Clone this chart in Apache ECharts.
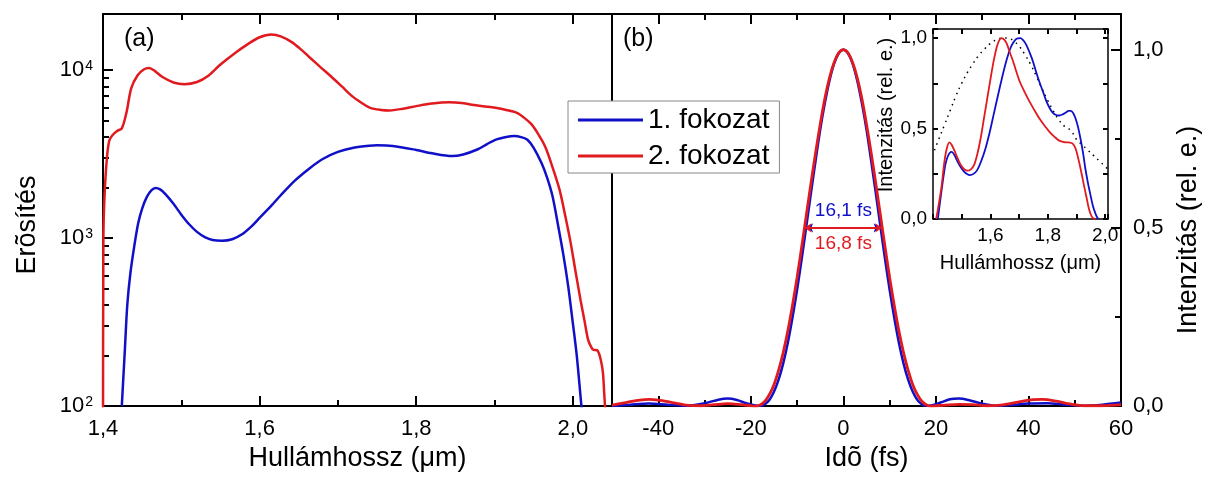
<!DOCTYPE html>
<html><head><meta charset="utf-8">
<script src="https://cdn.jsdelivr.net/npm/echarts@6/dist/echarts.min.js"></script>
<style>html,body{margin:0;padding:0;background:#fff}#c{width:1211px;height:477px}</style>
</head><body><div id="c"></div>
<script>
// ---------- Panel (a): gain vs wavelength (log scale) ----------
const wlBlueA = [1.424,1.428,1.431,1.435,1.44,1.445,1.45,1.456,1.462,1.467,1.473,1.48,1.49,1.50,1.51,1.52,1.53,1.54,1.552,1.565,1.577,1.59,1.60,1.615,1.627,1.645,1.664,1.68,1.70,1.72,1.74,1.75,1.77,1.80,1.82,1.846,1.86,1.878,1.89,1.901,1.915,1.925,1.935,1.942,1.95,1.96,1.967,1.974,1.981,1.988,1.994,1.999,2.005,2.011,2.02];
const gainBlueA = [100,220,400,620,900,1230,1500,1760,1930,1990,1950,1820,1600,1380,1210,1090,1015,975,965,985,1050,1180,1320,1560,1800,2200,2610,2950,3260,3450,3550,3570,3540,3350,3200,3080,3150,3370,3620,3850,4000,4050,3980,3850,3450,2800,2300,1780,1200,790,520,340,200,100,40];
const wlRedA = [1.400,1.4005,1.402,1.405,1.408,1.412,1.418,1.424,1.43,1.436,1.444,1.452,1.459,1.466,1.476,1.49,1.504,1.52,1.535,1.55,1.57,1.586,1.60,1.615,1.627,1.641,1.652,1.664,1.678,1.691,1.705,1.7185,1.73,1.741,1.755,1.766,1.783,1.80,1.82,1.842,1.858,1.869,1.885,1.901,1.915,1.928,1.938,1.947,1.956,1.965,1.974,1.983,1.99,1.997,2.003,2.01,2.015,2.0196,2.024,2.0265,2.031,2.0335,2.0356,2.0375,2.0388,2.040,2.041,2.043];
const gainRedA = [40,1000,1800,3000,3800,4100,4350,4500,5600,7800,9300,10100,10300,9900,9100,8450,8250,8500,9300,10800,12800,14400,15700,16300,15900,14700,13400,11900,10400,9200,8000,6980,6400,5970,5800,5760,5900,6110,6330,6440,6380,6250,6100,5970,5800,5580,5200,4770,4150,3480,2650,1945,1380,950,650,424,320,247,222,216,215,205,189,170,151,120,100,40];

// ---------- Panel (b): temporal intensity ----------
const tBlue = [-50,-46,-42,-38,-34,-30,-27,-25,-23,-21,-19,-18,-17,-16,-15,-14,-13,-12,-11,-10,-9,-8,-7,-6,-5,-4,-3,-2,-1,0,1,2,3,4,5,6,7,8,9,10,11,12,13,14,15,16,17,18,19,21,23,25,27,30,33,36,40,44,48,52,56,60];
const iBlue = [0.0,0.004,0.007,0.004,0.001,0.008,0.018,0.021,0.017,0.008,0.002,0.001,0.005,0.017,0.040,0.074,0.12,0.178,0.248,0.326,0.413,0.505,0.598,0.689,0.776,0.850,0.913,0.961,0.990,1.0,0.990,0.961,0.913,0.850,0.776,0.689,0.598,0.505,0.413,0.326,0.248,0.178,0.12,0.074,0.040,0.017,0.005,0.001,0.002,0.010,0.019,0.021,0.017,0.007,0.001,0.003,0.007,0.008,0.004,0.001,0.004,0.010];
const tRed = [-50,-47,-44,-42,-40,-37,-34,-31,-28,-25,-22,-20,-19,-18,-17,-16,-15,-14,-13,-12,-11,-10,-9,-8,-7,-6,-5,-4,-3,-2,-1,0,1,2,3,4,5,6,7,8,9,10,11,12,13,14,15,16,17,18,19,20,22,25,28,31,34,38,41,43,46,49,52,56,60];
const iRed = [0.003,0.010,0.017,0.019,0.017,0.010,0.003,0.001,0.004,0.007,0.004,0.001,0.0,0.003,0.013,0.032,0.060,0.100,0.150,0.211,0.282,0.361,0.447,0.536,0.625,0.711,0.791,0.863,0.921,0.964,0.991,1.0,0.991,0.964,0.921,0.863,0.791,0.711,0.625,0.536,0.447,0.361,0.282,0.211,0.150,0.100,0.060,0.032,0.013,0.003,0.0,0.001,0.003,0.005,0.004,0.001,0.003,0.012,0.018,0.019,0.014,0.006,0.001,0.001,0.004];
const fwhmBlue = 16.1, fwhmRed = 16.8;
const fwhmLabelBlue = '16,1 fs', fwhmLabelRed = '16,8 fs';

// ---------- Inset: spectra ----------
const wlBlueIn = [1.417,1.425,1.434,1.443,1.451,1.458,1.465,1.474,1.486,1.498,1.509,1.52,1.529,1.54,1.554,1.568,1.583,1.597,1.611,1.626,1.64,1.655,1.669,1.68,1.691,1.705,1.716,1.726,1.738,1.749,1.76,1.771,1.783,1.794,1.806,1.817,1.829,1.84,1.852,1.863,1.872,1.88,1.889,1.897,1.906,1.914,1.923,1.931,1.94,1.949,1.957,1.966,1.972,1.977];
const specBlueIn = [0,0.1,0.206,0.3,0.344,0.365,0.371,0.355,0.316,0.283,0.261,0.247,0.243,0.248,0.27,0.32,0.39,0.475,0.574,0.68,0.776,0.87,0.941,0.975,0.996,1.0,0.985,0.96,0.915,0.868,0.81,0.757,0.705,0.656,0.615,0.588,0.575,0.572,0.578,0.588,0.597,0.597,0.585,0.555,0.505,0.445,0.365,0.279,0.2,0.132,0.075,0.031,0.01,0];
const wlRedIn = [1.411,1.42,1.429,1.44,1.448,1.457,1.465,1.474,1.486,1.497,1.509,1.52,1.531,1.543,1.554,1.566,1.577,1.589,1.6,1.611,1.623,1.632,1.64,1.649,1.657,1.668,1.68,1.691,1.703,1.72,1.737,1.754,1.771,1.789,1.806,1.823,1.84,1.857,1.874,1.886,1.897,1.909,1.918,1.926,1.935,1.943,1.95,1.957,1.966];
const specRedIn = [0,0.08,0.17,0.32,0.39,0.423,0.41,0.38,0.335,0.298,0.275,0.267,0.273,0.298,0.355,0.445,0.55,0.665,0.77,0.87,0.955,0.99,1.0,0.99,0.969,0.92,0.868,0.812,0.757,0.7,0.647,0.6,0.555,0.515,0.482,0.455,0.433,0.425,0.423,0.418,0.39,0.316,0.25,0.1875,0.12,0.059,0.025,0.006,0];
const wlDotIn = [1.405,1.42,1.44,1.46,1.48,1.50,1.52,1.54,1.56,1.58,1.60,1.62,1.64,1.66,1.68,1.70,1.72,1.74,1.76,1.78,1.80,1.82,1.84,1.86,1.88,1.90,1.92,1.94,1.96,1.98,2.0,2.01];
const specDotIn = [0.38,0.44,0.52,0.60,0.68,0.75,0.81,0.86,0.905,0.94,0.97,0.99,1.0,1.0,0.985,0.955,0.91,0.855,0.79,0.72,0.655,0.595,0.545,0.51,0.49,0.44,0.41,0.38,0.35,0.32,0.29,0.275];

// ---------- Labels / ticks ----------
const legendNames = ['1. fokozat', '2. fokozat'];
const logMinorTicks = [200,300,400,500,600,700,800,900,2000,3000,4000,5000,6000,7000,8000,9000];
const timeMajorTicks = [-40,-20,0,20,40,60];
const intMajor = [0, 0.5, 1.0];
const intMinor = [0.25, 0.75];

const BLUE = '#1010c8', RED = '#e01a1f';
const FONT = "'Liberation Sans', Arial, sans-serif";
const zip = (a, b) => a.map((v, i) => [v, b[i]]);
const comma = v => v.toFixed(1).replace('.', ',');

const tickIn = (len) => ({show: true, inside: true, length: len, lineStyle: {color: '#000', width: 2}});
const axLine = (w) => ({show: true, onZero: false, lineStyle: {color: '#000', width: w}});
const noSplit = () => ({show: false});
const lbl = (extra) => Object.assign({color: '#000', fontSize: 22, fontFamily: FONT}, extra);
const minor = (len) => ({show: true, splitNumber: 2, length: len, lineStyle: {color: '#000', width: 2}});

const chart = echarts.init(document.getElementById('c'));
chart.setOption({
  animation: false,
  backgroundColor: '#fff',
  textStyle: {fontFamily: FONT},
  grid: [
    {left: 103, top: 14, width: 509, height: 393, show: false},
    {left: 612, top: 14, width: 509, height: 393, show: false},
    {left: 933, top: 29, width: 175, height: 190, show: false}
  ],
  xAxis: [
    {type: 'value', gridIndex: 0, position: 'bottom', min: 1.4, max: 2.05, interval: 0.2,
     axisLine: axLine(2), splitLine: noSplit(), axisTick: tickIn(10),
     minorTick: minor(6), minorSplitLine: {show: false},
     axisLabel: lbl({margin: 12, formatter: v => v > 2.01 ? '' : comma(v)}),
     name: 'Hullámhossz (μm)', nameLocation: 'middle', nameGap: 38, nameTextStyle: {fontSize: 27, color: '#000', fontFamily: FONT}},
    {type: 'value', gridIndex: 0, position: 'top', min: 1.4, max: 2.05, interval: 0.2,
     axisLine: axLine(2), splitLine: noSplit(), axisTick: tickIn(10), axisLabel: {show: false},
     minorTick: minor(6), minorSplitLine: {show: false}},
    {type: 'value', gridIndex: 1, position: 'bottom', min: -50, max: 60, interval: 10,
     axisLine: axLine(2), splitLine: noSplit(), axisTick: tickIn(6),
     axisLabel: lbl({margin: 12, formatter: v => (Math.abs(v % 20) < 1e-6 && v > -50) ? String(v) : ''}),
     name: 'Idõ (fs)', nameLocation: 'middle', nameGap: 38, nameTextStyle: {fontSize: 27, color: '#000', fontFamily: FONT}},
    {type: 'value', gridIndex: 1, position: 'bottom', min: -50, max: 60,
     axisLine: axLine(2), splitLine: noSplit(), axisLabel: {show: false},
     axisTick: Object.assign(tickIn(10), {customValues: timeMajorTicks})},
    {type: 'value', gridIndex: 1, position: 'top', min: -50, max: 60, interval: 10,
     axisLine: axLine(2), splitLine: noSplit(), axisTick: tickIn(6), axisLabel: {show: false}},
    {type: 'value', gridIndex: 1, position: 'top', min: -50, max: 60,
     axisLine: axLine(2), splitLine: noSplit(), axisLabel: {show: false},
     axisTick: Object.assign(tickIn(10), {customValues: timeMajorTicks})},
    {type: 'value', gridIndex: 2, position: 'bottom', min: 1.4, max: 2.01, interval: 0.1,
     axisLine: axLine(1.5), splitLine: noSplit(), axisTick: tickIn(5),
     axisLabel: lbl({fontSize: 19, margin: 7, formatter: v => {
       const k = Math.round(v * 10); return (k % 2 === 0 && k >= 16 && k <= 20 && Math.abs(v * 10 - k) < 1e-6) ? comma(v) : ''; }}),
     name: 'Hullámhossz (μm)', nameLocation: 'middle', nameGap: 34, nameTextStyle: {fontSize: 20, color: '#000', fontFamily: FONT}},
    {type: 'value', gridIndex: 2, position: 'top', min: 1.4, max: 2.01, interval: 0.1,
     axisLine: axLine(1.5), splitLine: noSplit(), axisTick: tickIn(5), axisLabel: {show: false}}
  ],
  yAxis: [
    {type: 'log', gridIndex: 0, position: 'left', logBase: 10, min: 100, max: 21600,
     axisLine: axLine(2), splitLine: noSplit(), axisTick: tickIn(10),
     axisLabel: lbl({margin: 10, formatter: v => {
       const l = Math.log10(v), e = Math.round(l);
       return Math.abs(l - e) < 1e-6 && e <= 4 ? '10{sup|' + e + '}' : ''; },
       rich: {sup: {fontSize: 14, color: '#000', fontFamily: FONT, verticalAlign: 'top', lineHeight: 14, padding: [0, 0, 10, 1]}}}),
     name: 'Erõsítés', nameLocation: 'middle', nameRotate: 90, nameGap: 62,
     nameTextStyle: {fontSize: 27, color: '#000', fontFamily: FONT, padding: [0, 30, 0, 0]}},
    {type: 'log', gridIndex: 0, position: 'left', logBase: 10, min: 100, max: 21600,
     axisLine: axLine(2), splitLine: noSplit(), axisLabel: {show: false},
     axisTick: Object.assign(tickIn(6), {customValues: logMinorTicks})},
    {type: 'value', gridIndex: 0, position: 'right', min: 0, max: 1,
     axisLine: axLine(2), splitLine: noSplit(), axisLabel: {show: false}, axisTick: {show: false}},
    {type: 'value', gridIndex: 1, position: 'right', min: 0, max: 1.1,
     axisLine: axLine(2), splitLine: noSplit(),
     axisTick: Object.assign(tickIn(10), {customValues: intMajor}),
     axisLabel: lbl({margin: 12, customValues: intMajor, formatter: v => comma(v)}),
     name: 'Intenzitás (rel. e.)', nameLocation: 'middle', nameRotate: 90, nameGap: 54,
     nameTextStyle: {fontSize: 27, color: '#000', fontFamily: FONT, padding: [0, 40, 0, 0]}},
    {type: 'value', gridIndex: 1, position: 'right', min: 0, max: 1.1,
     axisLine: axLine(2), splitLine: noSplit(), axisLabel: {show: false},
     axisTick: Object.assign(tickIn(6), {customValues: intMinor})},
    {type: 'value', gridIndex: 2, position: 'left', min: 0, max: 1.05, interval: 0.25,
     axisLine: axLine(1.5), splitLine: noSplit(), axisTick: tickIn(5),
     axisLabel: lbl({fontSize: 19, margin: 6, formatter: v => {
       const k = Math.round(v * 4); return (k % 2 === 0 && Math.abs(v * 4 - k) < 1e-6 && v <= 1) ? comma(v) : ''; }}),
     name: 'Intenzitás (rel. e.)', nameLocation: 'middle', nameRotate: 90, nameGap: 27,
     nameTextStyle: {fontSize: 20, color: '#000', fontFamily: FONT, padding: [0, 0, 0, 18]}},
    {type: 'value', gridIndex: 2, position: 'right', min: 0, max: 1.05, interval: 0.25,
     axisLine: axLine(1.5), splitLine: noSplit(), axisTick: tickIn(5), axisLabel: {show: false}}
  ],
  legend: {
    data: legendNames, orient: 'vertical', left: 568, top: 101, icon: 'rect',
    itemWidth: 65, itemHeight: 3, itemGap: 8, padding: [5, 10, 3, 10],
    borderColor: '#888', borderWidth: 1, backgroundColor: '#fff', borderRadius: 0,
    textStyle: {fontSize: 28, color: '#000', fontFamily: FONT, lineHeight: 27},
    selectedMode: false, z: 10
  },
  graphic: [
    {type: 'text', left: 124, top: 27, style: {text: '(a)', fontSize: 25, fill: '#000', fontFamily: FONT}, z: 10},
    {type: 'text', left: 623, top: 27, style: {text: '(b)', fontSize: 25, fill: '#000', fontFamily: FONT}, z: 10}
  ],
  series: [
    {name: legendNames[0], type: 'line', xAxisIndex: 0, yAxisIndex: 0, data: zip(wlBlueA, gainBlueA),
     symbol: 'none', smooth: 0.3, clip: true, lineStyle: {color: BLUE, width: 2.5}, itemStyle: {color: BLUE}},
    {name: legendNames[1], type: 'line', xAxisIndex: 0, yAxisIndex: 0, data: zip(wlRedA, gainRedA),
     symbol: 'none', smooth: 0.3, clip: true, lineStyle: {color: RED, width: 2.5}, itemStyle: {color: RED}},
    {name: legendNames[0], type: 'line', xAxisIndex: 2, yAxisIndex: 3, data: zip(tBlue, iBlue),
     symbol: 'none', smooth: 0.3, clip: true, lineStyle: {color: BLUE, width: 2.5}, itemStyle: {color: BLUE},
     markLine: {silent: true, symbol: ['arrow', 'arrow'], symbolSize: [7, 7], animation: false,
       lineStyle: {color: BLUE, width: 1.8, type: 'solid'},
       label: {show: true, position: 'insideMiddleTop', distance: 8, formatter: fwhmLabelBlue, color: BLUE, fontSize: 19, fontFamily: FONT},
       data: [[{coord: [-fwhmBlue / 2, 0.5]}, {coord: [fwhmBlue / 2, 0.5]}]]}},
    {name: legendNames[1], type: 'line', xAxisIndex: 2, yAxisIndex: 3, data: zip(tRed, iRed),
     symbol: 'none', smooth: 0.3, clip: true, lineStyle: {color: RED, width: 2.8}, itemStyle: {color: RED},
     markLine: {silent: true, symbol: ['arrow', 'arrow'], symbolSize: [7, 7], animation: false,
       lineStyle: {color: RED, width: 1.8, type: 'solid'},
       label: {show: true, position: 'insideMiddleBottom', distance: 6, formatter: fwhmLabelRed, color: RED, fontSize: 19, fontFamily: FONT},
       data: [[{coord: [-fwhmRed / 2, 0.5]}, {coord: [fwhmRed / 2, 0.5]}]]}},
    {name: 'szélesség', type: 'line', xAxisIndex: 6, yAxisIndex: 5, data: zip(wlDotIn, specDotIn), z: 5,
     symbol: 'none', smooth: 0.4, clip: true, lineStyle: {color: '#000', width: 1.5, type: [1.5, 4.5]}},
    {name: legendNames[0], type: 'line', xAxisIndex: 6, yAxisIndex: 5, data: zip(wlBlueIn, specBlueIn), z: 5,
     symbol: 'none', smooth: 0.3, clip: true, lineStyle: {color: BLUE, width: 1.8}, itemStyle: {color: BLUE}},
    {name: legendNames[1], type: 'line', xAxisIndex: 6, yAxisIndex: 5, data: zip(wlRedIn, specRedIn), z: 5,
     symbol: 'none', smooth: 0.3, clip: true, lineStyle: {color: RED, width: 1.8}, itemStyle: {color: RED}}
  ]
});
</script></body></html>
